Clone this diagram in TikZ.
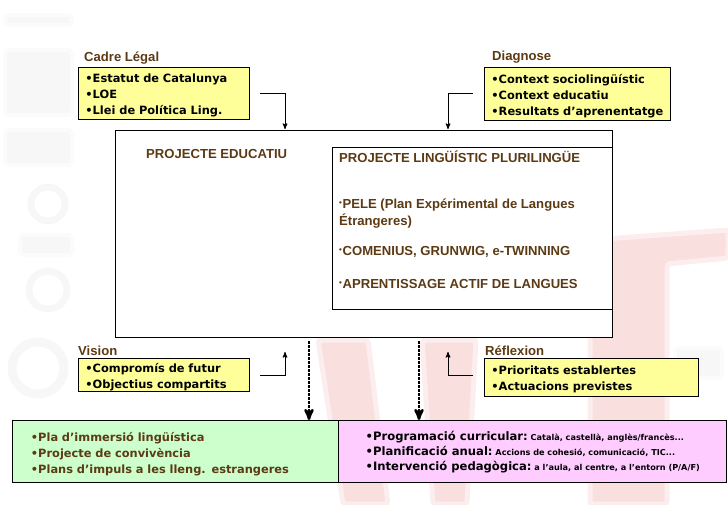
\documentclass[tikz,border=0pt]{standalone}
\usepackage{fontspec}
\setmainfont{Liberation Sans}
\newfontfamily\boxfont{DejaVu Sans}
\usepackage{xcolor}
\usepackage{tikz}
\usetikzlibrary{arrows}
\definecolor{brownlab}{HTML}{5C3A14}
\definecolor{yellowfill}{HTML}{FFFF99}
\definecolor{greenfill}{HTML}{CCFFCC}
\definecolor{pinkfill}{HTML}{FFCCFF}
\definecolor{wmred}{HTML}{FADFDF}
\definecolor{wmredb}{HTML}{FCEEEE}
\definecolor{wmgrey}{HTML}{F7F7F7}
\newcommand{\smallbul}{\raisebox{2.5pt}{\fontsize{8}{8}\selectfont\textbullet}\hspace{.6pt}}
\newcommand{\smalltxt}{\fontsize{8.15}{8.15}\selectfont}
\tikzset{
  labeltext/.style={text=brownlab, font=\fontsize{13.1}{15.5}\selectfont\bfseries, inner sep=0, anchor=west},
  planbox/.style={draw=black, line width=.9pt, inner sep=0, anchor=north west},
  lowered/.style={execute at begin node={\rule{0pt}{#1}}},
  bullbox/.style={planbox, align=left, inner xsep=7, font=\boxfont\fontsize{11.4}{16}\selectfont\bfseries},
  yellowbox/.style={bullbox, fill=yellowfill, lowered=13pt},
  wmshape/.style={fill=wmred, draw=wmredb, line width=5pt, rounded corners=3pt},
  wmgreyshape/.style={fill=wmgrey, draw=wmgrey!50, line width=4pt, rounded corners=4pt},
  conn/.style={black, line width=1pt, ->, >=stealth'},
  dotconn/.style={black, line width=2.6pt, dash pattern=on 2.5pt off 1.5pt, ->, >=stealth'}
}
\begin{document}
\begin{tikzpicture}[x=1pt,y=-1pt]
\useasboundingbox (0,0) rectangle (728,504);
% background
\filldraw[wmshape] (318,340) -- (368,340) -- (388,504) -- (343,504) -- cycle;
\filldraw[wmshape] (422,340) -- (476,340) -- (467,504) -- (433,504) -- cycle;
\filldraw[wmshape] (590,240) -- (728,230) -- (728,258) -- (667,264) -- (667,504) -- (590,504) -- cycle;
\filldraw[wmgreyshape] (5,15) rectangle (72,25);
\filldraw[wmgreyshape] (5,50) rectangle (72,115);
\filldraw[wmgreyshape] (5,130) rectangle (72,165);
\filldraw[wmgreyshape] (20,235) rectangle (72,255);
\draw[wmgrey, line width=7pt] (48,204) circle (17);
\draw[wmgrey, line width=7pt] (48,290) circle (19);
\draw[wmgrey, line width=9pt] (38,368) circle (26);
\filldraw[wmgreyshape] (675,348) rectangle (722,378);
% top boxes
\node[labeltext] (cadrelab) at (84,58.5) {Cadre Légal};
\node[yellowbox, minimum height=52, text width=157] (cadre) at (78,67) {•Estatut de Catalunya\\•LOE\\•Llei de Política Ling.};
\node[labeltext] (diaglab) at (492,57.5) {Diagnose};
\node[yellowbox, minimum height=53, text width=172] (diag) at (484,67) {•Context sociolingüístic\\•Context educatiu\\•Resultats d’aprenentatge};
% main
\node[planbox, fill=white, minimum width=497, minimum height=207] (main) at (115,130) {};
\node[planbox, minimum width=280, minimum height=162] (inner) at (332,147) {};
\node[labeltext] (eductxt) at (146,153.5) {PROJECTE EDUCATIU};
\node[labeltext] (plurtxt) at (339,157) {PROJECTE LINGÜÍSTIC PLURILINGÜE};
\node[labeltext, align=left] (peletxt) at (339,213.5) {\smallbul PELE (Plan Expérimental de Langues\\[1.5pt]Étrangeres)};
\node[labeltext] (comtxt) at (339,251.5) {\smallbul COMENIUS, GRUNWIG, e-TWINNING};
\node[labeltext] (aprtxt) at (339,283.5) {\smallbul APRENTISSAGE ACTIF DE LANGUES};
% bottom of main
\node[labeltext] (vislab) at (78,351) {Vision};
\node[yellowbox, minimum height=33, text width=157] (vis) at (78,358) {•Compromís de futur\\•Objectius compartits};
\node[labeltext] (reflab) at (485,351) {Réflexion};
\node[yellowbox, minimum height=38, text width=200] (ref) at (484,358) {•Prioritats establertes\\•Actuacions previstes};
% action boxes
\node[bullbox, fill=greenfill, text=brownlab, lowered=15pt, inner xsep=18.5, minimum height=62, text width=289] (green) at (12,420) {•Pla d’immersió lingüística\\•Projecte de convivència\\•Plans d’impuls a les lleng. estrangeres};
\node[planbox, fill=pinkfill, minimum width=388, minimum height=62] (pink) at (338,420) {};
\node[inner sep=0, anchor=west, align=left, font=\boxfont\fontsize{11.6}{15}\selectfont\bfseries] (pinktxt) at (365.5,452.5) {•Programació curricular:{\smalltxt\ Català, castellà, anglès/francès...}\\•Planificació anual:{\smalltxt\ Accions de cohesió, comunicació, TIC...}\\•Intervenció pedagògica:{\smalltxt\ a l’aula, al centre, a l’entorn (P/A/F)}};
% connectors
\coordinate (cadrefrom) at (260,93);
\coordinate (diagfrom) at (473,93);
\coordinate (visfrom) at (260,375);
\coordinate (reffrom) at (473,375);
\coordinate (cadrein) at (285,129);
\coordinate (diagin) at (448,129);
\coordinate (visin) at (285,352);
\coordinate (refin) at (448,352);
\draw[conn] (cadrefrom) -| (cadrein);
\draw[conn] (diagfrom) -| (diagin);
\draw[conn] (visfrom) -| (visin);
\draw[conn] (reffrom) -| (refin);
\coordinate (dotafrom) at (309,341);
\coordinate (dotbfrom) at (419,341);
\coordinate (dotato) at (309,420);
\coordinate (dotbto) at (419,420);
\draw[dotconn] (dotafrom) -- (dotato);
\draw[dotconn] (dotbfrom) -- (dotbto);
\end{tikzpicture}
\end{document}
